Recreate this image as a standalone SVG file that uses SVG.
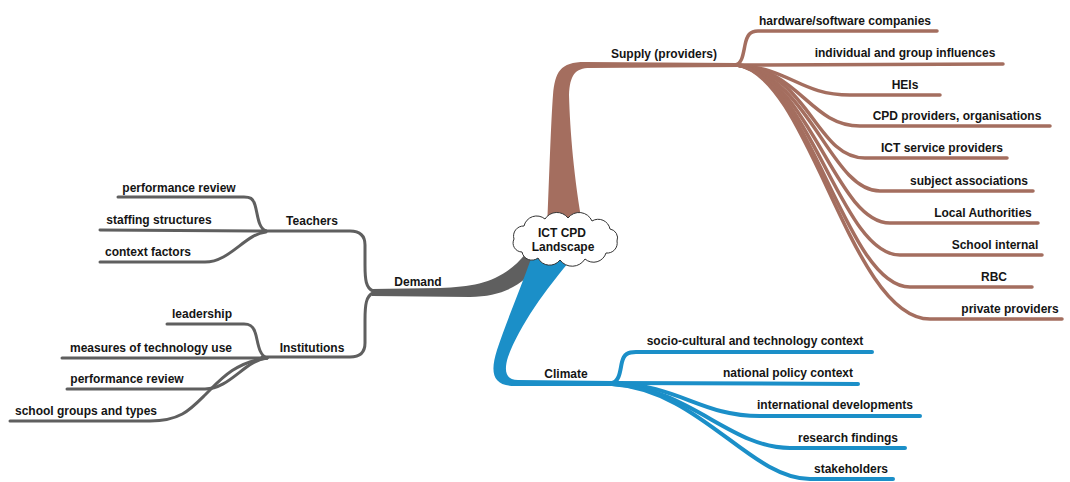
<svg xmlns="http://www.w3.org/2000/svg" width="1070" height="482" viewBox="0 0 1070 482">
<style>
.t{font-family:"Liberation Sans",Arial,sans-serif;font-size:12px;font-weight:bold;fill:#151515;text-anchor:middle}
.s{fill:none;stroke:#a46e5f;stroke-width:3.5;stroke-linecap:round}
.g{fill:none;stroke:#5f5f5f;stroke-width:3;stroke-linecap:round}
.b{fill:none;stroke:#1b8fc8;stroke-width:4;stroke-linecap:round}
</style>
<rect width="1070" height="482" fill="#ffffff"/>
<g id="connectors">
<!-- trunks -->
<path fill="#a46e5f" d="M547,228 C549,180 551,120 553,95 C555,72 560,62 585,62 L737,63 L737,67 L590,68 C575,68 570,75 569,95 C570,130 574,180 583,228 Z"/>
<path fill="#5f5f5f" d="M372,289 L440,288 C480,287 505,280 527,252 L542,258 C525,285 505,296 470,297 L372,296 Z"/>
<path fill="#1b8fc8" d="M532,256 C520,290 505,325 497,350 C490,372 492,386 515,386 L612,386 L612,381 L518,380 C505,380 504,370 508,357 C520,325 545,290 574,256 Z"/>
<!-- supply branches -->
<path class="s" d="M735,65 C742,64 743,55 745,45 C747,35 750,31 758,31 L937,31"/>
<path class="s" d="M735,65 L1003,64"/>
<path class="s" d="M737,65 C790,68 800,95 850,95 L940,95"/>
<path class="s" d="M737,65 C800,70 810,126 860,126 L1050,126"/>
<path class="s" d="M737,65 C810,72 815,158 865,158 L1007,158"/>
<path class="s" d="M737,65 C810,75 830,191 880,191 L1033,191"/>
<path class="s" d="M737,65 C810,75 835,223 890,223 L1038,223"/>
<path class="s" d="M737,65 C810,75 840,255 900,255 L1042,255"/>
<path class="s" d="M737,65 C810,75 845,287 910,287 L1032,287"/>
<path class="s" d="M737,65 C810,75 850,319 930,319 L1062,319"/>
<!-- demand branches -->
<path class="g" d="M373,291 C366,288 365,280 365,265 L365,245 C365,236 360,231 350,231 L262,231"/>
<path class="g" d="M373,293 C366,296 365,305 365,320 L365,343 C365,352 360,357 350,357 L262,357"/>
<path class="g" d="M266,231 C258,228 258,215 255,205 C253,198 250,197 244,197 L118,197"/>
<path class="g" d="M266,231 L100,230"/>
<path class="g" d="M266,232 C245,234 230,262 205,262 L100,262"/>
<path class="g" d="M267,358 C258,355 258,340 255,332 C253,326 250,324 244,324 L167,324"/>
<path class="g" d="M267,358 L62,358"/>
<path class="g" d="M267,358 C245,360 230,389 205,389 L67,389"/>
<path class="g" d="M267,358 C235,362 220,380 205,395 C190,410 180,421 150,421 L10,421"/>
<!-- climate branches -->
<path class="b" d="M612,383 C620,381 620,370 622,362 C624,354 628,352 636,352 L872,352"/>
<path class="b" d="M612,383 L858,384"/>
<path class="b" d="M612,383 C680,385 700,416 760,416 L920,416"/>
<path class="b" d="M612,384 C690,388 730,448 790,448 L905,448"/>
<path class="b" d="M612,384 C700,390 750,479 810,479 L893,479"/>
</g>
<g id="center">
<path fill="#ffffff" stroke="#333333" stroke-width="1" d="M522,252 A9,9 0 0 1 514,239 A10,10 0 0 1 524,226 A13,13 0 0 1 545,219 A14,14 0 0 1 568,218 A14,14 0 0 1 592,221 A12,12 0 0 1 610,229 A9,9 0 0 1 617,241 A10,10 0 0 1 606,253 A13,13 0 0 1 585,259 A15,15 0 0 1 560,260 A13,13 0 0 1 538,258 A10,10 0 0 1 522,252 Z"/>
<text class="t" x="562" y="237">ICT CPD</text>
<text class="t" x="563" y="251">Landscape</text>
</g>
<g id="supply"><text class="t" x="664" y="58">Supply (providers)</text></g>
<g id="s1"><text class="t" x="845" y="25">hardware/software companies</text></g>
<g id="s2"><text class="t" x="905" y="57">individual and group influences</text></g>
<g id="s3"><text class="t" x="905" y="89">HEIs</text></g>
<g id="s4"><text class="t" x="957" y="120">CPD providers, organisations</text></g>
<g id="s5"><text class="t" x="942" y="152">ICT service providers</text></g>
<g id="s6"><text class="t" x="969" y="185">subject associations</text></g>
<g id="s7"><text class="t" x="983" y="217">Local Authorities</text></g>
<g id="s8"><text class="t" x="995" y="249">School internal</text></g>
<g id="s9"><text class="t" x="994" y="281">RBC</text></g>
<g id="s10"><text class="t" x="1010" y="313">private providers</text></g>
<g id="demand"><text class="t" x="418" y="286">Demand</text></g>
<g id="teachers"><text class="t" x="312" y="225">Teachers</text></g>
<g id="t1"><text class="t" x="179" y="192">performance review</text></g>
<g id="t2"><text class="t" x="159" y="224">staffing structures</text></g>
<g id="t3"><text class="t" x="148" y="256">context factors</text></g>
<g id="institutions"><text class="t" x="312" y="352">Institutions</text></g>
<g id="i1"><text class="t" x="202" y="318">leadership</text></g>
<g id="i2"><text class="t" x="151" y="352">measures of technology use</text></g>
<g id="i3"><text class="t" x="127" y="383">performance review</text></g>
<g id="i4"><text class="t" x="86" y="415">school groups and types</text></g>
<g id="climate"><text class="t" x="566" y="378">Climate</text></g>
<g id="c1"><text class="t" x="755" y="345">socio-cultural and technology context</text></g>
<g id="c2"><text class="t" x="788" y="377">national policy context</text></g>
<g id="c3"><text class="t" x="835" y="409">international developments</text></g>
<g id="c4"><text class="t" x="848" y="442">research findings</text></g>
<g id="c5"><text class="t" x="851" y="473">stakeholders</text></g>
</svg>
